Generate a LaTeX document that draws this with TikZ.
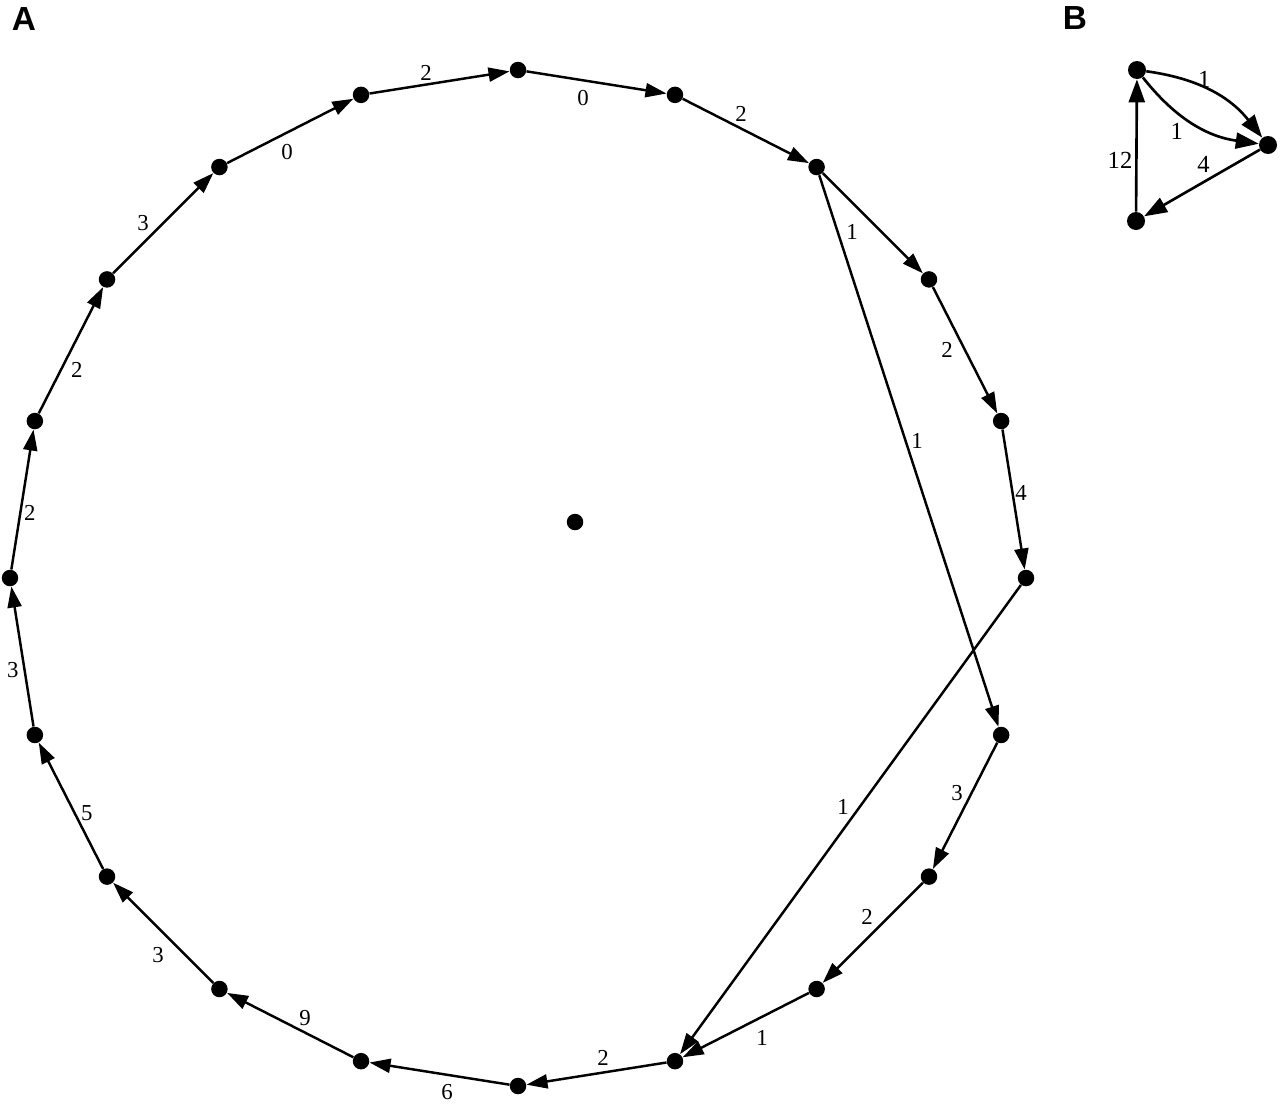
\documentclass[tikz,border=0pt]{standalone}
\usepackage{fontspec}
\setmainfont{Liberation Serif}
\setsansfont{Liberation Sans}
\usetikzlibrary{arrows.meta}

\begin{document}
\begin{tikzpicture}[x=0.02cm, y=0.02cm,
			vertex/.style={circle, fill=black, inner sep=0pt, minimum size=0.33cm},
			weight/.style={font=\fontsize{13}{15}\selectfont, inner sep=0pt},
			bigweight/.style={font=\fontsize{14}{16}\selectfont, inner sep=0pt},
			panel/.style={font=\sffamily\bfseries\fontsize{19}{22}\selectfont, inner sep=0pt},
			line/.style={draw, line width=1.4pt, -{Triangle[length=0.42cm, width=0.28cm]}},
			bigline/.style={draw, line width=1.5pt, -{Triangle[length=0.46cm, width=0.32cm]}}]

		\useasboundingbox (0,0) rectangle (1280,-1103);

		% Panel letters
		\node[panel] (labA) at (24,-19) {A};
		\node[panel] (labB) at (1075,-18) {B};

		% Define nodes (ring of 20 and the lone one)
		\foreach \i in {1,...,20}
			\node[vertex] (n\i) at ({518+508*cos(90-18*(\i-1))}, {-578+508*sin(90-18*(\i-1))}) {};
		\node[vertex] (hub) at (575,-522) {};

		% Draw connections with weights
		\foreach \a/\b/\w/\dx/\dy in {20/1/2/-13.5/9.5, 1/2/0/-13.5/-15.5, 2/3/2/-4.8/17,
				3/4/1/-20.8/-8.8, 3/7/1/8.1/10, 4/5/2/-18/0, 5/6/4/7.4/6.5, 6/10/1/-7.5/12.6,
				7/8/3/-8/12.8, 8/9/2/-5.8/15.8, 9/10/1/16.2/-13, 10/11/2/6.5/15.5,
				11/12/6/7.5/-18.5, 12/13/9/14.8/7, 13/14/3/-5.2/-22.2, 14/15/5/16/-7.2,
				15/16/3/-9.5/-13.5, 16/17/2/7.5/-13.5, 17/18/2/6/-19.8, 18/19/3/-20.2/0,
				19/20/0/-3.2/-21}
			{
				\path [line] (n\a) -- node[weight, midway, shift={(\dx,\dy)}] {\w} (n\b);
			}

		% Small triangle graph
		\node[vertex, minimum size=0.36cm] (top) at (1137,-70) {};
		\node[vertex, minimum size=0.36cm] (right) at (1268,-145) {};
		\node[vertex, minimum size=0.36cm] (bottom) at (1136,-221) {};

		\path [bigline] (top) to[bend left=22] node[bigweight, midway, shift={(-7.3,12.8)}] {1} (right);
		\path [bigline] (top) to[bend right=22] node[bigweight, midway, shift={(-16.7,-7.8)}] {1} (right);
		\path [bigline] (right) -- node[bigweight, midway, shift={(1.5,18.5)}] {4} (bottom);
		\path [bigline] (bottom) -- node[bigweight, midway, shift={(-16.5,-14.5)}] {12} (top);

	\end{tikzpicture}
\end{document}
